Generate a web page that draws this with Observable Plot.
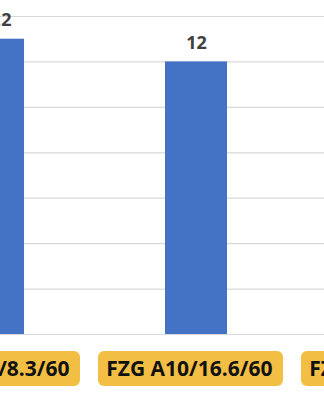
<!DOCTYPE html>
<html>
<head>
<meta charset="utf-8">
<script src="https://cdn.jsdelivr.net/npm/d3@7"></script>
<script src="https://cdn.jsdelivr.net/npm/@observablehq/plot@0.6"></script>
<style>
  html, body { margin: 0; padding: 0; background: #fff; overflow: hidden; }
  #chart { width: 324px; height: 400px; }
</style>
</head>
<body>
<div id="chart"></div>
<script>
const categories = ["FZG A10/8.3/60", "FZG A10/16.6/60", "FZG A10/33.3/60"];
const values = [13, 12, 11];
const valueLabels = ["13.2", "12", "11"];
const yTicks = [0, 2, 4, 6, 8, 10, 12, 14];

const data = categories.map((c, i) => ({category: c, value: values[i], label: valueLabels[i]}));

const chart = Plot.plot({
  width: 324,
  height: 400,
  margin: 0,
  style: {background: "#fff", overflow: "hidden"},
  x: {domain: categories, range: [-141, 533], paddingInner: 0.696, paddingOuter: 0.5, axis: null},
  y: {domain: [0, 14], range: [334, 16], axis: null},
  marks: [
    Plot.ruleY(yTicks, {stroke: "#d9d9d9", strokeWidth: 1.2}),
    Plot.barY(data, {x: "category", y: "value", fill: "#4472c4"}),
    Plot.text(data, {x: "category", y: "value", text: "label", dy: -19, fill: "#404040",
      fontFamily: "Open Sans", fontWeight: "bold", fontSize: 18}),
    Plot.barY(data, {x: "category", y1: -0.75, y2: -2.29, fill: "#f2bf44", rx: 6,
      insetLeft: -67, insetRight: -56}),
    Plot.text(data, {x: "category", y: -1.54, text: "category", textAnchor: "end", dx: 76,
      fill: "#111", fontFamily: "Open Sans", fontWeight: "bold", fontSize: 21})
  ]
});
document.getElementById("chart").appendChild(chart);
</script>
</body>
</html>
